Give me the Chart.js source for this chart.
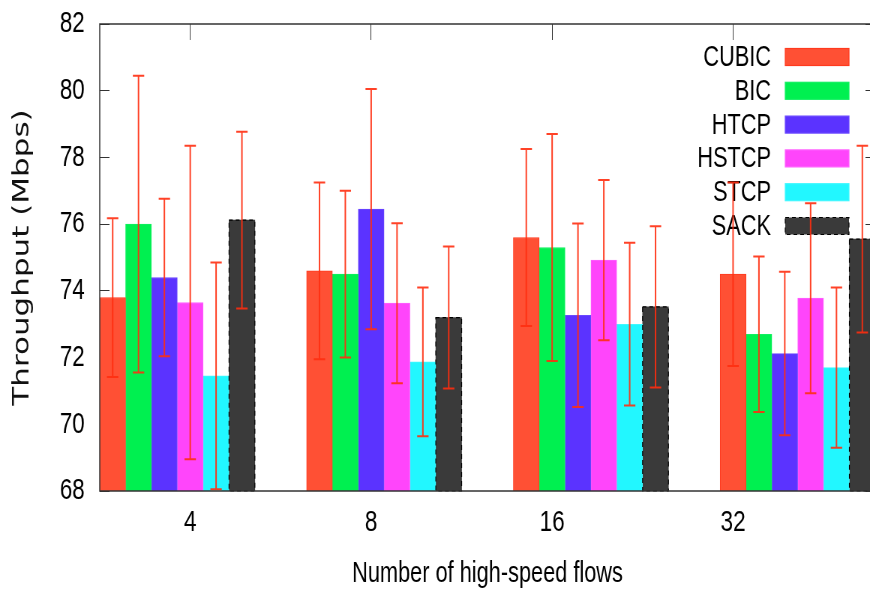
<!DOCTYPE html>
<html>
<head>
<meta charset="utf-8">
<script src="https://cdn.jsdelivr.net/npm/chart.js@4.4.1/dist/chart.umd.min.js"></script>
<style>
html, body { margin: 0; padding: 0; background: #fff; overflow: hidden; }
/* the plot is drawn wide and squeezed sideways, which gives the narrow lettering */
#wrap { position: absolute; left: 0; top: 0; width: 1187px; height: 593px; transform: scaleX(0.75); transform-origin: 0 0; }
#myChart { display: block; }
</style>
</head>
<body>
<div id="wrap"><canvas id="myChart" width="1187" height="593"></canvas></div>
<script>
const flowCounts = ['4', '8', '16', '32'];
const seriesNames = ['CUBIC', 'BIC', 'HTCP', 'HSTCP', 'STCP', 'SACK'];
const seriesColors = ['#ff5034', '#00f050', '#5b33ff', '#ff45fb', '#22f7ff', '#3a3a3a'];
const seriesBorders = ['#ff3a1e', '#10f060', '#6a48ff', '#ff60ff', '#40f8ff', '#3a3a3a'];

// mean throughput per flow count
const cubicMean = [73.8, 74.6, 75.6, 74.5];
const bicMean = [76.0, 74.5, 75.3, 72.7];
const htcpMean = [74.4, 76.45, 73.27, 72.12];
const hstcpMean = [73.65, 73.63, 74.92, 73.78];
const stcpMean = [71.45, 71.87, 73.0, 71.7];
const sackMean = [76.12, 73.2, 73.52, 75.55];

// half width of the error bar
const cubicErr = [2.38, 2.65, 2.65, 2.75];
const bicErr = [4.45, 2.5, 3.4, 2.33];
const htcpErr = [2.36, 3.6, 2.75, 2.45];
const hstcpErr = [4.7, 2.4, 2.4, 2.85];
const stcpErr = [3.4, 2.23, 2.44, 2.4];
const sackErr = [2.65, 2.13, 2.42, 2.8];

const yTickLabels = [68, 70, 72, 74, 76, 78, 80, 82];

const means = [cubicMean, bicMean, htcpMean, hstcpMean, stcpMean, sackMean];
const errors = [cubicErr, bicErr, htcpErr, hstcpErr, stcpErr, sackErr];

const sans = "'Liberation Sans', Arial, sans-serif";

// each cluster is 6 bars plus a 2 bar gap, the tics sit 7 bars apart
const clusterWidth = seriesNames.length + 2;
const xMax = clusterWidth * flowCounts.length - 2;
const tickAt = flowCounts.map((c, g) => g * 7 + 3.5);

const datasets = seriesNames.map((name, s) => ({
    label: name,
    data: means[s].map((v, g) => ({ x: g * clusterWidth + s + 0.5, y: v })),
    errors: errors[s],
    backgroundColor: seriesColors[s],
    borderColor: seriesBorders[s],
    borderWidth: name === 'SACK' ? 0 : 1,
    grouped: false,
    barPercentage: 1,
    categoryPercentage: 1
}));

const sameTicks = axis => {
    axis.ticks = tickAt.map(v => ({ value: v }));
};

// labels at the ends should not push the plot area in
const noOverhang = axis => {
    axis.paddingTop = 0;
    axis.paddingBottom = 0;
    axis.paddingLeft = 0;
    axis.paddingRight = 0;
};

const overlay = {
    id: 'overlay',
    afterDatasetsDraw(chart) {
        const ctx = chart.ctx;
        const area = chart.chartArea;
        const yScale = chart.scales.y;
        ctx.save();

        // dashed outline for SACK bars
        const sackMeta = chart.getDatasetMeta(seriesNames.indexOf('SACK'));
        ctx.strokeStyle = '#000';
        ctx.lineWidth = 1.2;
        ctx.setLineDash([5, 4]);
        sackMeta.data.forEach(bar => {
            const base = Math.min(bar.base, area.bottom);
            ctx.strokeRect(bar.x - bar.width / 2, bar.y, bar.width, base - bar.y);
        });
        ctx.setLineDash([]);

        // plot border
        ctx.strokeStyle = '#333';
        ctx.lineWidth = 1.5;
        ctx.strokeRect(area.left, area.top, area.right - area.left, area.bottom - area.top);

        // key, text on the left of the sample box
        ctx.font = '29px ' + sans;
        ctx.textAlign = 'right';
        ctx.textBaseline = 'middle';
        seriesNames.forEach((name, k) => {
            const rowY = area.top + 33 + k * 33.8;
            const boxX = area.right - 120;
            ctx.fillStyle = '#000';
            ctx.fillText(name, area.right - 139, rowY + 1);
            ctx.fillStyle = seriesColors[k];
            ctx.fillRect(boxX, rowY - 8.5, 85, 17);
            ctx.lineWidth = 1.2;
            if (name === 'SACK') {
                ctx.strokeStyle = '#000';
                ctx.setLineDash([5, 4]);
                ctx.strokeRect(boxX, rowY - 8.5, 85, 17);
                ctx.setLineDash([]);
            } else {
                ctx.strokeStyle = seriesBorders[k];
                ctx.strokeRect(boxX, rowY - 8.5, 85, 17);
            }
        });

        // error bars
        ctx.strokeStyle = 'rgba(255, 45, 15, 0.9)';
        ctx.lineWidth = 2;
        chart.data.datasets.forEach((ds, i) => {
            const meta = chart.getDatasetMeta(i);
            meta.data.forEach((bar, j) => {
                const v = ds.data[j].y;
                const top = yScale.getPixelForValue(v + ds.errors[j]);
                const bottom = yScale.getPixelForValue(v - ds.errors[j]);
                const cap = bar.width * 0.22;
                ctx.beginPath();
                ctx.moveTo(bar.x, top);
                ctx.lineTo(bar.x, bottom);
                ctx.moveTo(bar.x - cap, top);
                ctx.lineTo(bar.x + cap, top);
                ctx.moveTo(bar.x - cap, bottom);
                ctx.lineTo(bar.x + cap, bottom);
                ctx.stroke();
            });
        });
        ctx.restore();
    }
};

const ctx = document.getElementById('myChart').getContext('2d');
const chart = new Chart(ctx, {
    type: 'bar',
    data: { datasets: datasets },
    options: {
        responsive: false,
        animation: false,
        layout: { padding: { top: 24, right: 20, left: 0, bottom: 0 } },
        plugins: {
            legend: { display: false },
            tooltip: { enabled: false }
        },
        scales: {
            x: {
                type: 'linear',
                position: 'bottom',
                offset: false,
                min: 0,
                max: xMax,
                afterBuildTicks: sameTicks,
                afterFit: axis => { axis.height = 102; noOverhang(axis); },
                grid: { offset: false, drawOnChartArea: false, tickLength: -16, color: '#333' },
                border: { display: false },
                ticks: {
                    autoSkip: false,
                    maxRotation: 0,
                    padding: 30,
                    color: '#000',
                    font: { family: sans, size: 30 },
                    callback: (value, index) => flowCounts[index]
                },
                title: {
                    display: true,
                    text: 'Number of high-speed flows',
                    color: '#000',
                    font: { family: sans, size: 29 },
                    padding: { top: 2, bottom: 2 }
                }
            },
            xTop: {
                type: 'linear',
                position: 'top',
                offset: false,
                min: 0,
                max: xMax,
                afterBuildTicks: sameTicks,
                afterFit: axis => { axis.height = 0; noOverhang(axis); },
                grid: { offset: false, drawOnChartArea: false, tickLength: -16, color: '#333' },
                border: { display: false },
                ticks: { display: false }
            },
            y: {
                position: 'left',
                min: yTickLabels[0],
                max: yTickLabels[yTickLabels.length - 1],
                afterFit: axis => { axis.width = 133; noOverhang(axis); },
                grid: { drawOnChartArea: false, tickLength: -13, color: '#333' },
                border: { display: false },
                ticks: {
                    stepSize: 2,
                    padding: 33,
                    color: '#000',
                    font: { family: sans, size: 30 }
                },
                title: {
                    display: true,
                    text: 'Throughput (Mbps)',
                    color: '#111',
                    font: { family: "'DejaVu Sans', sans-serif", size: 31 },
                    padding: { top: 11, bottom: 0 }
                }
            },
            yRight: {
                position: 'right',
                min: yTickLabels[0],
                max: yTickLabels[yTickLabels.length - 1],
                afterFit: axis => { axis.width = 0; noOverhang(axis); },
                grid: { drawOnChartArea: false, tickLength: -13, color: '#333' },
                border: { display: false },
                ticks: { stepSize: 2, display: false }
            }
        }
    },
    plugins: [overlay]
});
</script>
</body>
</html>
